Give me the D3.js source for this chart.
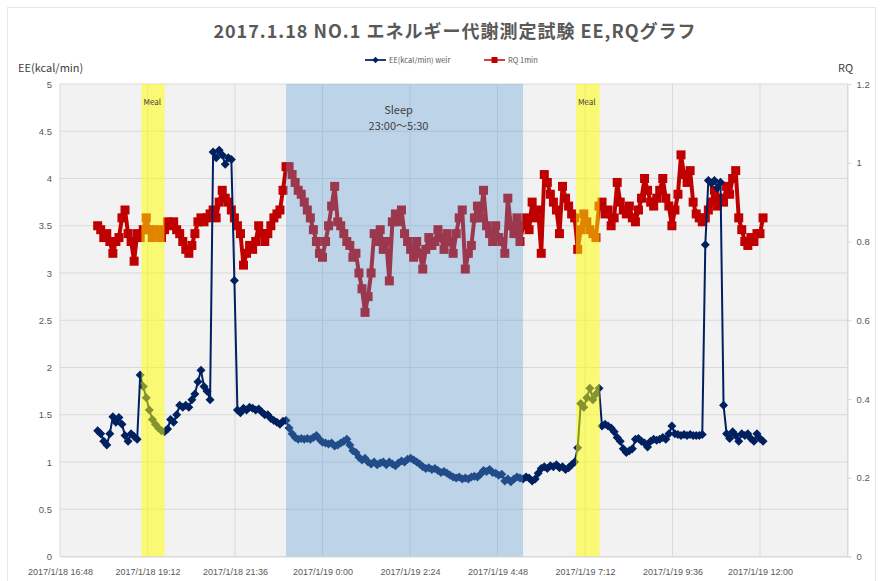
<!DOCTYPE html>
<html>
<head>
<meta charset="utf-8">
<script src="https://cdn.jsdelivr.net/npm/d3@7"></script>
<style>
  body { margin: 0; background: #fff; }
  svg { display: block; font-family: "Noto Sans CJK JP", "Noto Sans", sans-serif; }
</style>
</head>
<body>
<div id="chart"></div>
<script>
// ---- data ----
const title = "2017.1.18 NO.1 エネルギー代謝測定試験 EE,RQグラフ"
const seriesNames = ["EE(kcal/min) weir", "RQ 1min"]
const axisStart = "2017-01-18 16:48", axisEnd = "2017-01-19 14:24"
const tickStepMinutes = 144
const sampleStart = "2017-01-18 17:50", sampleStepMinutes = 5
const eeTicks = [0, 0.5, 1, 1.5, 2, 2.5, 3, 3.5, 4, 4.5, 5]
const rqTicks = [0, 0.2, 0.4, 0.6, 0.8, 1, 1.2]

const eeValues = [
  1.33, 1.30, 1.22, 1.18, 1.30, 1.48, 1.42, 1.47, 1.40, 1.28,
  1.22, 1.30, 1.27, 1.24, 1.92, 1.80, 1.68, 1.55, 1.45, 1.40,
  1.36, 1.33, 1.32, 1.35, 1.45, 1.42, 1.50, 1.60, 1.58, 1.60,
  1.58, 1.66, 1.72, 1.85, 1.97, 1.80, 1.75, 1.66, 4.28, 4.22,
  4.30, 4.25, 4.15, 4.22, 4.20, 2.92, 1.55, 1.52, 1.57, 1.55,
  1.58, 1.57, 1.55, 1.56, 1.53, 1.50, 1.50, 1.46, 1.44, 1.42,
  1.40, 1.43, 1.44, 1.36, 1.30, 1.26, 1.24, 1.25, 1.24, 1.25,
  1.24, 1.26, 1.28, 1.24, 1.21, 1.20, 1.19, 1.20, 1.17, 1.18,
  1.20, 1.22, 1.24, 1.18, 1.12, 1.10, 1.05, 1.02, 1.04, 1.00,
  0.98, 1.00, 0.97, 0.99, 1.00, 0.97, 1.00, 0.98, 0.96, 0.99,
  1.01, 1.00, 1.03, 1.04, 1.02, 1.00, 0.98, 0.95, 0.93, 0.94,
  0.92, 0.93, 0.91, 0.89, 0.90, 0.88, 0.86, 0.84, 0.83, 0.84,
  0.82, 0.83, 0.82, 0.84, 0.85, 0.84, 0.87, 0.91, 0.90, 0.92,
  0.89, 0.88, 0.86, 0.87, 0.80, 0.82, 0.79, 0.82, 0.84, 0.83,
  0.82, 0.84, 0.83, 0.80, 0.82, 0.88, 0.93, 0.95, 0.93, 0.96,
  0.95, 0.97, 0.94, 0.95, 0.92, 0.94, 0.97, 1.00, 1.15, 1.62,
  1.58, 1.68, 1.78, 1.66, 1.72, 1.78, 1.38, 1.40, 1.38, 1.36,
  1.32, 1.26, 1.22, 1.14, 1.10, 1.12, 1.14, 1.24, 1.25, 1.22,
  1.20, 1.16, 1.22, 1.24, 1.23, 1.24, 1.26, 1.24, 1.30, 1.38,
  1.30, 1.29, 1.28, 1.29, 1.28, 1.29, 1.28, 1.28, 1.28, 1.29,
  3.30, 3.98, 3.95, 3.98, 3.90, 3.96, 1.60, 1.30, 1.25, 1.32,
  1.28, 1.22, 1.30, 1.28, 1.30, 1.25, 1.22, 1.30, 1.25, 1.22
]

const rqValues = [
  0.84, 0.83, 0.81, 0.82, 0.80, 0.77, 0.80, 0.81, 0.86, 0.88,
  0.82, 0.80, 0.75, 0.82, 0.81, 0.83, 0.86, 0.83, 0.81, 0.83,
  0.82, 0.81, 0.83, 0.85, 0.84, 0.85, 0.83, 0.82, 0.80, 0.78,
  0.77, 0.79, 0.82, 0.85, 0.86, 0.85, 0.86, 0.87, 0.88, 0.86,
  0.90, 0.93, 0.91, 0.90, 0.88, 0.86, 0.84, 0.82, 0.74, 0.77,
  0.79, 0.78, 0.80, 0.84, 0.82, 0.80, 0.82, 0.84, 0.86, 0.87,
  0.88, 0.93, 0.99, 0.99, 0.97, 0.95, 0.93, 0.92, 0.90, 0.88,
  0.86, 0.83, 0.80, 0.77, 0.76, 0.80, 0.84, 0.89, 0.94, 0.85,
  0.84, 0.82, 0.80, 0.79, 0.76, 0.77, 0.72, 0.68, 0.62, 0.66,
  0.72, 0.82, 0.80, 0.83, 0.78, 0.80, 0.70, 0.85, 0.87, 0.85,
  0.88, 0.82, 0.80, 0.78, 0.76, 0.80, 0.77, 0.73, 0.78, 0.81,
  0.79, 0.80, 0.83, 0.81, 0.78, 0.82, 0.80, 0.77, 0.82, 0.86,
  0.88, 0.73, 0.77, 0.79, 0.86, 0.89, 0.86, 0.93, 0.84, 0.82,
  0.80, 0.84, 0.81, 0.80, 0.77, 0.91, 0.84, 0.82, 0.86, 0.80,
  0.84, 0.86, 0.83, 0.90, 0.86, 0.88, 0.77, 0.97, 0.95, 0.92,
  0.90, 0.88, 0.82, 0.94, 0.91, 0.89, 0.87, 0.86, 0.78, 0.83,
  0.87, 0.85, 0.83, 0.82, 0.81, 0.89, 0.90, 0.87, 0.88, 0.84,
  0.86, 0.95, 0.90, 0.88, 0.87, 0.89, 0.86, 0.85, 0.88, 0.91,
  0.96, 0.93, 0.90, 0.89, 0.91, 0.93, 0.96, 0.91, 0.89, 0.84,
  0.88, 0.92, 1.02, 0.97, 0.95, 0.98, 0.90, 0.87, 0.86, 0.85,
  0.86, 0.88, 0.90, 0.93, 0.89, 0.91, 0.90, 0.94, 0.92, 0.96,
  0.98, 0.86, 0.83, 0.80, 0.79, 0.81, 0.80, 0.82, 0.82, 0.86
]

const mealBands = [["2017-01-18 19:02", "2017-01-18 19:40"], ["2017-01-19 06:57", "2017-01-19 07:36"]]
const sleepBand = ["2017-01-18 23:00", "2017-01-19 05:30"]
const sleepLabel = ["Sleep", "23:00～5:30"]

// ---- layout ----
const width = 882, height = 581
const margin = { top: 84, right: 35, bottom: 24.5, left: 60 }
const parse = d3.timeParse("%Y-%m-%d %H:%M")
const fmt = d3.timeFormat("%Y/%-m/%-d %-H:%M")

const colors = { ee: "#002060", rq: "#c00000", grid: "#d9d9d9", plot: "#f2f2f2", text: "#595959" }

const x = d3.scaleTime()
    .domain([parse(axisStart), parse(axisEnd)])
    .range([margin.left, width - 34.5])
const yL = d3.scaleLinear().domain([0, 5]).range([height - margin.bottom, margin.top])
const yR = d3.scaleLinear().domain([0, 1.2]).range([height - margin.bottom, margin.top])

const t0 = parse(sampleStart)
const timeAt = i => d3.timeMinute.offset(t0, i * sampleStepMinutes)
const ee = eeValues.map((v, i) => ({ t: timeAt(i), v }))
const rq = rqValues.map((v, i) => ({ t: timeAt(i), v }))

const tickDates = d3.range(0, 10).map(k => d3.timeMinute.offset(parse(axisStart), k * tickStepMinutes))

const svg = d3.select("#chart").append("svg")
    .attr("width", width)
    .attr("height", height)

// chart border
svg.append("rect")
    .attr("x", 7.5).attr("y", 7.5)
    .attr("width", width - 14).attr("height", height + 10)
    .attr("fill", "#fff").attr("stroke", "#e6e6e6")

const x0 = x.range()[0], x1 = x.range()[1], yTop = yL(5), yBot = yL(0)

svg.append("rect")
    .attr("x", x0).attr("y", yTop)
    .attr("width", x1 - x0).attr("height", yBot - yTop)
    .attr("fill", colors.plot)

// gridlines
svg.append("g")
    .attr("stroke", colors.grid)
    .selectAll("line")
    .data(eeTicks)
    .join("line")
    .attr("x1", x0).attr("x2", x1)
    .attr("y1", d => yL(d)).attr("y2", d => yL(d))

svg.append("g")
    .attr("stroke", colors.grid)
    .selectAll("line")
    .data(tickDates)
    .join("line")
    .attr("x1", d => x(d)).attr("x2", d => x(d))
    .attr("y1", yTop).attr("y2", yBot)

// series
const plot = svg.append("g")

plot.append("path")
    .datum(rq)
    .attr("fill", "none")
    .attr("stroke", colors.rq)
    .attr("stroke-width", 4)
    .attr("stroke-linejoin", "round")
    .attr("d", d3.line().x(d => x(d.t)).y(d => yR(d.v)))

plot.append("g")
    .attr("fill", colors.rq)
    .selectAll("rect")
    .data(rq)
    .join("rect")
    .attr("x", d => x(d.t) - 4.5).attr("y", d => yR(d.v) - 4.5)
    .attr("width", 9).attr("height", 9)

const diamond = r => `M0,${-r}L${r},0L0,${r}L${-r},0Z`

plot.append("path")
    .datum(ee)
    .attr("fill", "none")
    .attr("stroke", colors.ee)
    .attr("stroke-width", 2)
    .attr("stroke-linejoin", "round")
    .attr("d", d3.line().x(d => x(d.t)).y(d => yL(d.v)))

plot.append("g")
    .attr("fill", colors.ee)
    .selectAll("path")
    .data(ee)
    .join("path")
    .attr("transform", d => `translate(${x(d.t)},${yL(d.v)})`)
    .attr("d", diamond(4.5))

// shaded periods drawn over the data, like the original
svg.append("rect")
    .attr("x", x(parse(sleepBand[0]))).attr("y", yTop)
    .attr("width", x(parse(sleepBand[1])) - x(parse(sleepBand[0])))
    .attr("height", yBot - yTop)
    .attr("fill", "#5b9bd5").attr("fill-opacity", 0.36)

svg.append("g")
    .selectAll("rect")
    .data(mealBands)
    .join("rect")
    .attr("x", d => x(parse(d[0]))).attr("y", yTop)
    .attr("width", d => x(parse(d[1])) - x(parse(d[0])))
    .attr("height", yBot - yTop)
    .attr("fill", "#ffff00").attr("fill-opacity", 0.52)

svg.append("g")
    .selectAll("text")
    .data(mealBands)
    .join("text")
    .attr("x", d => x(parse(d[0])) + 2)
    .attr("y", 105)
    .attr("font-size", 8)
    .attr("fill", "#404040")
    .text("Meal")

const sleepMid = (x(parse(sleepBand[0])) + x(parse(sleepBand[1]))) / 2
svg.append("g")
    .attr("text-anchor", "middle")
    .attr("font-size", 11)
    .attr("fill", "#404040")
    .selectAll("text")
    .data(sleepLabel)
    .join("text")
    .attr("x", sleepMid - 6)
    .attr("y", (d, i) => 114 + i * 16)
    .text(d => d)

// axes
svg.append("g")
    .attr("transform", `translate(${x0},0)`)
    .call(d3.axisLeft(yL).tickValues(eeTicks).tickFormat(d3.format("~g")).tickSize(0).tickPadding(8))
    .call(g => g.select(".domain").remove())
    .call(g => g.selectAll("text").attr("fill", colors.text).attr("font-size", 9.5).attr("font-family", "Liberation Sans"))

svg.append("g")
    .attr("transform", `translate(${x1},0)`)
    .call(d3.axisRight(yR).tickValues(rqTicks).tickFormat(d3.format("~g")).tickSize(4).tickPadding(5))
    .call(g => g.select(".domain").attr("stroke", colors.grid))
    .call(g => g.selectAll("line").attr("stroke", colors.grid))
    .call(g => g.selectAll("text").attr("fill", colors.text).attr("font-size", 9.5).attr("font-family", "Liberation Sans"))

svg.append("g")
    .attr("transform", `translate(0,${yBot})`)
    .call(d3.axisBottom(x).tickValues(tickDates.slice(0, 9)).tickFormat(fmt).tickSize(0).tickPadding(12))
    .call(g => g.select(".domain").attr("stroke", colors.grid))
    .call(g => g.selectAll("text").attr("fill", colors.text).attr("font-size", 9).attr("font-family", "Liberation Sans"))

// titles
svg.append("text")
    .attr("x", width / 2 + 14).attr("y", 38)
    .attr("text-anchor", "middle")
    .attr("font-size", 18).attr("font-weight", "bold")
    .attr("letter-spacing", 1)
    .attr("fill", colors.text)
    .text(title)

svg.append("text")
    .attr("x", 18).attr("y", 72)
    .attr("font-size", 11).attr("fill", "#404040")
    .text("EE(kcal/min)")

svg.append("text")
    .attr("x", 838).attr("y", 72)
    .attr("font-size", 11).attr("fill", "#404040")
    .text("RQ")

// legend
const legend = svg.append("g").attr("font-size", 7.5).attr("fill", colors.text)
const eeLeg = legend.append("g").attr("transform", "translate(365,60)")
eeLeg.append("line").attr("x1", 0).attr("x2", 21).attr("stroke", colors.ee).attr("stroke-width", 1.75)
eeLeg.append("path").attr("transform", "translate(10.5,0)").attr("d", diamond(3.2)).attr("fill", colors.ee)
eeLeg.append("text").attr("x", 24).attr("y", 2.5).text(seriesNames[0])

const rqLeg = legend.append("g").attr("transform", "translate(484,60)")
rqLeg.append("line").attr("x1", 0).attr("x2", 21).attr("stroke", colors.rq).attr("stroke-width", 1.5)
rqLeg.append("rect").attr("x", 7.5).attr("y", -3).attr("width", 6).attr("height", 6).attr("fill", colors.rq)
rqLeg.append("text").attr("x", 24).attr("y", 2.5).text(seriesNames[1])
</script>
</body>
</html>
